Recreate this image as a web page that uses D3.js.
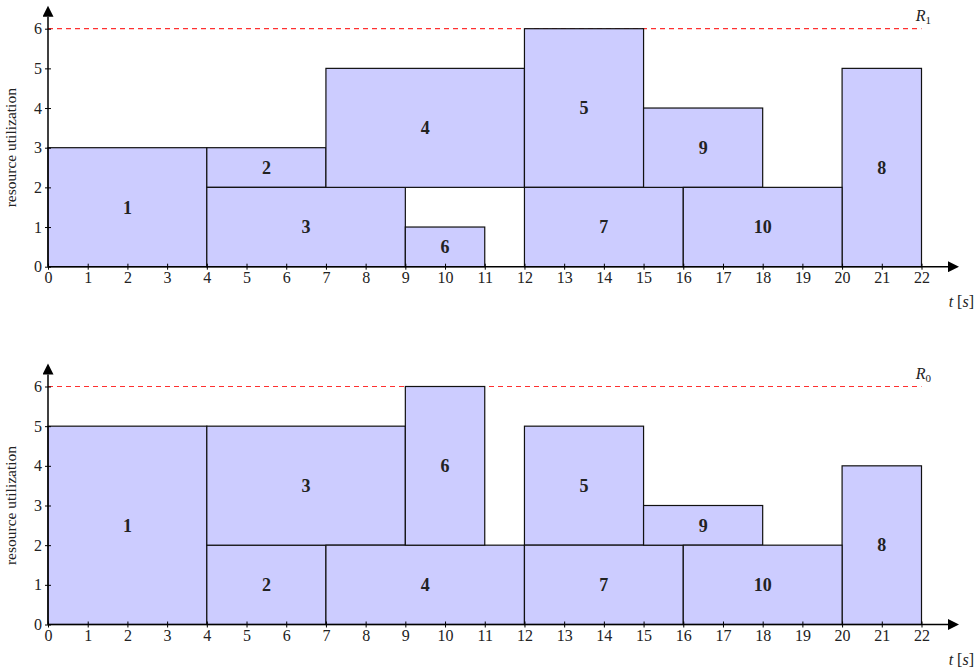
<!DOCTYPE html>
<html>
<head>
<meta charset="utf-8">
<script src="https://cdn.jsdelivr.net/npm/d3@7"></script>
<style>
  body { margin: 0; background: #fff; }
  text { font-family: "Liberation Serif", "DejaVu Serif", serif; fill: #222; }
  .task { font-weight: bold; font-size: 18px; }
  .tick text { font-size: 16px; fill: #222; font-family: "Liberation Serif", serif; }
</style>
</head>
<body>
<svg id="chart"></svg>
<script>
// tasks: [id, start, end, bottom, top]
const tasksR1 = [
  [1, 0, 4, 0, 3], [2, 4, 7, 2, 3], [3, 4, 9, 0, 2], [4, 7, 12, 2, 5],
  [5, 12, 15, 2, 6], [6, 9, 11, 0, 1], [7, 12, 16, 0, 2], [8, 20, 22, 0, 5],
  [9, 15, 18, 2, 4], [10, 16, 20, 0, 2]
];
const tasksR0 = [
  [1, 0, 4, 0, 5], [2, 4, 7, 0, 2], [3, 4, 9, 2, 5], [4, 7, 12, 0, 2],
  [5, 12, 15, 2, 5], [6, 9, 11, 2, 6], [7, 12, 16, 0, 2], [8, 20, 22, 0, 4],
  [9, 15, 18, 2, 3], [10, 16, 20, 0, 2]
];
const xTicks = d3.range(0, 23);
const yTicks = [0, 1, 2, 3, 4, 5, 6];
const capacity = 6;

const width = 975, height = 668;
const svg = d3.select('#chart').attr('width', width).attr('height', height);

svg.append('defs').append('marker')
  .attr('id', 'arrow')
  .attr('viewBox', '0 0 10 10')
  .attr('refX', 0).attr('refY', 5)
  .attr('markerWidth', 12).attr('markerHeight', 11)
  .attr('markerUnits', 'userSpaceOnUse')
  .attr('orient', 'auto')
  .append('path').attr('d', 'M0,0 L10,5 L0,10 Z').attr('fill', '#000');

let x = d3.scaleLinear().domain([0, 22]).range([48, 921.5]);

let drawPanel = (tasks, y0, label, sub) => {
  let y = d3.scaleLinear().domain([0, 6]).range([y0, y0 - 238]);
  let g = svg.append('g');

  // capacity line
  g.append('line')
    .attr('x1', x(0)).attr('x2', x(22))
    .attr('y1', y(capacity)).attr('y2', y(capacity))
    .attr('stroke', '#ff3030').attr('stroke-width', 1.2)
    .attr('stroke-dasharray', '5,4');

  g.selectAll('rect.task')
    .data(tasks)
    .enter()
    .append('rect')
    .attr('class', 'task')
    .attr('x', d => x(d[1]))
    .attr('y', d => y(d[4]))
    .attr('width', d => x(d[2]) - x(d[1]))
    .attr('height', d => y(d[3]) - y(d[4]))
    .attr('fill', '#ccccff')
    .attr('stroke', '#111')
    .attr('stroke-width', 1.2);

  g.selectAll('text.task')
    .data(tasks)
    .enter()
    .append('text')
    .attr('class', 'task')
    .attr('x', d => x((d[1] + d[2]) / 2))
    .attr('y', d => y((d[3] + d[4]) / 2))
    .attr('text-anchor', 'middle')
    .attr('dy', '0.35em')
    .text(d => d[0]);

  // axes
  let xAxis = d3.axisBottom(x).tickValues(xTicks).tickSize(0).tickPadding(5)
    .tickFormat(d3.format('d'));
  let gx = g.append('g').attr('transform', 'translate(0,' + y0 + ')').call(xAxis);
  gx.select('.domain').remove();
  gx.selectAll('.tick line').attr('y1', -3).attr('y2', 3).attr('stroke', '#000');

  let yAxis = d3.axisLeft(y).tickValues(yTicks).tickSize(0).tickPadding(6)
    .tickFormat(d3.format('d'));
  let gy = g.append('g').attr('transform', 'translate(' + x(0) + ',0)').call(yAxis);
  gy.select('.domain').remove();
  gy.selectAll('.tick line').attr('x1', -3).attr('x2', 3).attr('stroke', '#000');

  g.append('line')
    .attr('x1', x(0)).attr('x2', 948)
    .attr('y1', y0).attr('y2', y0)
    .attr('stroke', '#000').attr('stroke-width', 1.5)
    .attr('marker-end', 'url(#arrow)');
  g.append('line')
    .attr('x1', x(0)).attr('x2', x(0))
    .attr('y1', y0).attr('y2', y0 - 250)
    .attr('stroke', '#000').attr('stroke-width', 1.5)
    .attr('marker-end', 'url(#arrow)');

  // labels
  let rl = g.append('text')
    .attr('x', 931).attr('y', y(capacity) - 8)
    .attr('text-anchor', 'end')
    .style('font-size', '16px');
  rl.append('tspan').style('font-style', 'italic').text('R');
  rl.append('tspan').attr('dy', 3).style('font-size', '11px').text(sub);

  let tl = g.append('text')
    .attr('x', 974).attr('y', y0 + 40)
    .attr('text-anchor', 'end')
    .style('font-size', '16px');
  tl.append('tspan').style('font-style', 'italic').text('t');
  tl.append('tspan').text(' [');
  tl.append('tspan').style('font-style', 'italic').text('s');
  tl.append('tspan').text(']');

  g.append('text')
    .attr('transform', 'translate(16,' + y(3) + ') rotate(-90)')
    .attr('text-anchor', 'middle')
    .style('font-size', '15.5px')
    .text(label);
};

drawPanel(tasksR1, 266.7, 'resource utilization', '1');
drawPanel(tasksR0, 624.5, 'resource utilization', '0');
</script>
</body>
</html>
